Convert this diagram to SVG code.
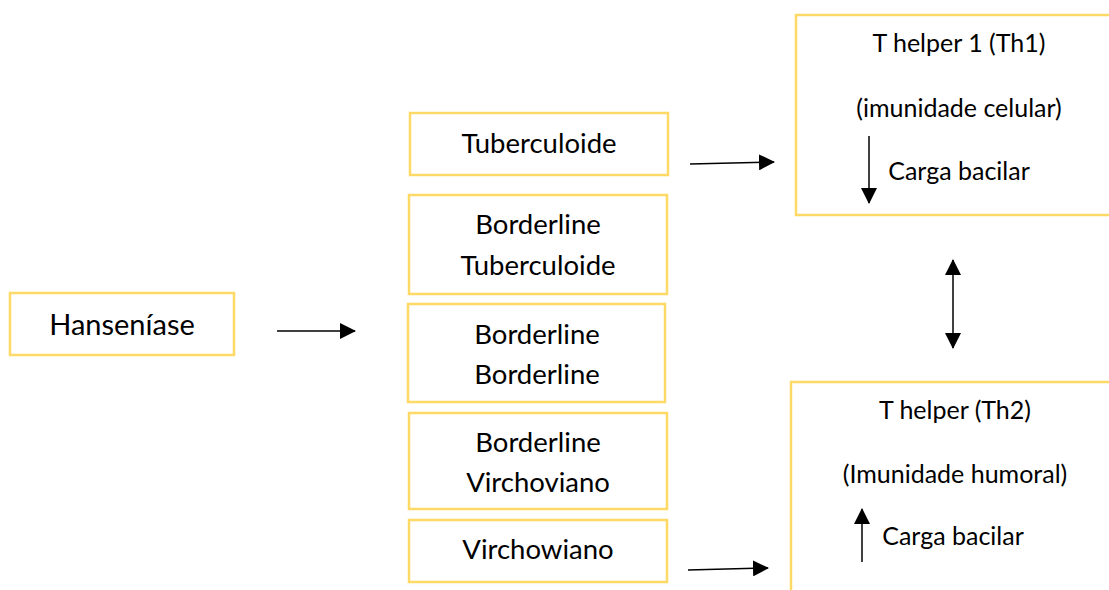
<svg xmlns="http://www.w3.org/2000/svg" width="1109" height="590" viewBox="0 0 1109 590">
<style>
.box{fill:#fff;stroke:#FFD966;stroke-width:2.5}
.t{font-family:Lato,"Open Sans",sans-serif;font-size:27.5px;fill:#000;text-anchor:middle}
.h{font-size:29px}
.s{font-family:Lato,"Open Sans",sans-serif;font-size:25px;fill:#000;text-anchor:middle}
.c{stroke:#000;stroke-width:1.5;fill:none}
</style>
<defs>
<marker id="ah" viewBox="0 0 16 16" refX="15" refY="8" markerWidth="16" markerHeight="16" markerUnits="userSpaceOnUse" orient="auto-start-reverse">
<path d="M0,0 L16,8 L0,16 Z" fill="#000"/>
</marker>
</defs>
<rect width="1109" height="590" fill="#fff"/>
<g id="hanseniase">
<rect class="box" x="10" y="293" width="224" height="62"/>
<text class="t h" x="122" y="335">Hanseníase</text>
</g>
<g id="tuberculoide">
<rect class="box" x="410" y="113" width="258" height="62"/>
<text class="t" x="539" y="153">Tuberculoide</text>
</g>
<g id="bt">
<rect class="box" x="409" y="195" width="258" height="99"/>
<text class="t" x="538" y="234">Borderline</text>
<text class="t" x="538" y="275">Tuberculoide</text>
</g>
<g id="bb">
<rect class="box" x="408" y="304" width="257" height="98"/>
<text class="t" x="537" y="344">Borderline</text>
<text class="t" x="537" y="384">Borderline</text>
</g>
<g id="bv">
<rect class="box" x="409" y="413" width="258" height="96"/>
<text class="t" x="538" y="452">Borderline</text>
<text class="t" x="538" y="492">Virchoviano</text>
</g>
<g id="virchowiano">
<rect class="box" x="409" y="520" width="258" height="62"/>
<text class="t" x="538" y="559">Virchowiano</text>
</g>
<g id="th1">
<rect class="box" x="796" y="15" width="330" height="200"/>
<text class="s" x="959" y="52">T helper 1 (Th1)</text>
<text class="s" x="959" y="117">(imunidade celular)</text>
<text class="s" x="959" y="180">Carga bacilar</text>
<line class="c" x1="869" y1="136" x2="869" y2="203" marker-end="url(#ah)"/>
</g>
<g id="th2">
<rect class="box" x="791" y="382" width="340" height="230"/>
<text class="s" x="955" y="419">T helper (Th2)</text>
<text class="s" x="955" y="483">(Imunidade humoral)</text>
<text class="s" x="953" y="545">Carga bacilar</text>
<line class="c" x1="862" y1="562" x2="862" y2="509" marker-end="url(#ah)"/>
</g>
<g id="connectors">
<line class="c" x1="277" y1="331" x2="355" y2="331" marker-end="url(#ah)"/>
<line class="c" x1="690" y1="164" x2="774" y2="162" marker-end="url(#ah)"/>
<line class="c" x1="688" y1="570" x2="768" y2="568" marker-end="url(#ah)"/>
<line class="c" x1="953" y1="260" x2="953" y2="348" marker-start="url(#ah)" marker-end="url(#ah)"/>
</g>
</svg>
